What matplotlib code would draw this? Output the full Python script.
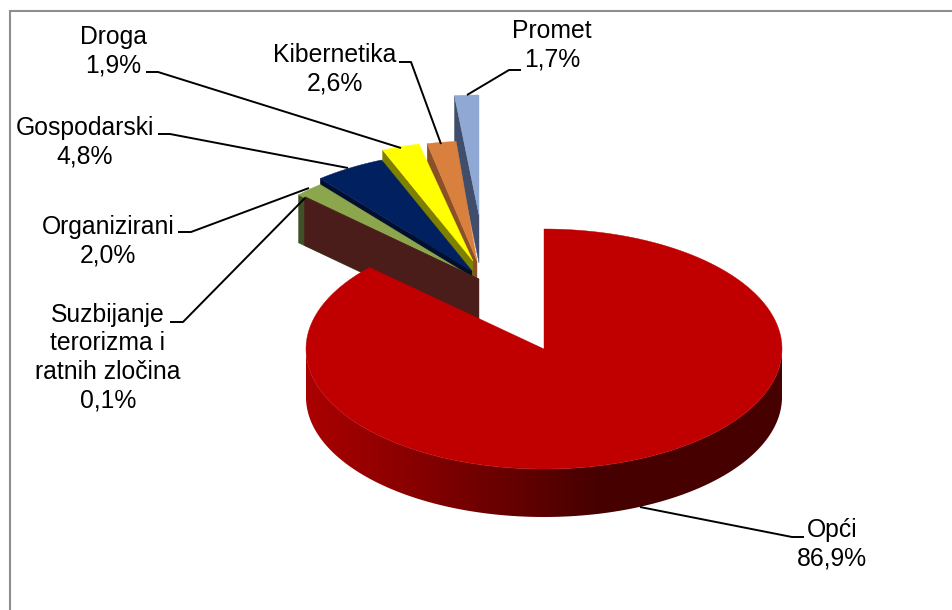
import numpy as np
import matplotlib
matplotlib.use("Agg")
import matplotlib.pyplot as plt
from matplotlib.patches import Polygon

# ---- data (clockwise from 12 o'clock)
categories = ["Opći", "Suzbijanje\nterorizma i\nratnih zločina", "Organizirani",
              "Gospodarski", "Droga", "Kibernetika", "Promet"]
shares = [86.9, 0.1, 2.0, 4.8, 1.9, 2.6, 1.7]

# ---- styling / layout, in figure pixels
top_colors = ["#C00000", "#4A1C1A", "#8CA64E", "#002060", "#FFFF00", "#D9803F", "#8FA8D4"]
wall_colors = ["#4A0000", "#4A1C1A", "#3F5126", "#000F30", "#7F7F00", "#8A5028", "#414E6B"]
apex = [(544, 349), (479, 279), (472, 277), (472, 271), (473, 261), (477, 261), (479, 215)]
# small corrections (degrees) for the 3D projection of the narrow slices: start, end
proj_shift = [(0, 0), (0, 0), (0, 0), (0, 0), (0, 2.4), (3.4, 1.1), (0.2, 0)]
RX, RY, DEPTH = 238, 120, 48
label_pos = [(832, 544), (108, 357.5), (108, 241.5), (85, 142.5), (113, 51.5), (335, 69.5), (552, 45)]
leaders = [[(804, 537), (792, 537), (640, 507)],
           [(170, 322), (183, 322), (305, 198)],
           [(178, 232), (191, 232), (309, 188)],
           [(158, 134), (170, 134), (348, 168)],
           [(146, 72), (158, 72), (401, 148)],
           [(399, 62), (411, 62), (441, 144)],
           [(521, 70), (509, 70), (467, 95)]]
FRAME = "#8E8E8E"
RIM_X = [306, 400, 500, 600, 782]
RIM_R = [170, 140, 105, 70, 70]

plt.rcParams["font.family"] = ["Liberation Sans", "DejaVu Sans"]
fig = plt.figure(figsize=(9.52, 6.10), dpi=100, facecolor="white")
ax = fig.add_axes([0, 0, 1, 1])
ax.set_xlim(0, 952)
ax.set_ylim(610, 0)
ax.axis("off")

ax.plot([9.5, 9.5, 952], [610, 11, 11], color=FRAME, lw=1.5, solid_joinstyle="miter", zorder=1)


def arc(cx, cy, t0, t1, n=120):
    t = np.radians(np.linspace(t0, t1, n))
    return np.column_stack([cx + RX * np.sin(t), cy - RY * np.cos(t)])


edges = np.cumsum([0] + shares) / sum(shares) * 360
z = 2
for i in range(len(shares) - 1, 0, -1):
    t0 = edges[i] + proj_shift[i][0]
    t1 = edges[i + 1] + proj_shift[i][1]
    cx, cy = apex[i]
    rim = arc(cx, cy, t0, t1)
    corner = rim[0]
    wall = [(cx, cy), corner, (corner[0], corner[1] + DEPTH), (cx, cy + DEPTH)]
    ax.add_patch(Polygon(wall, closed=True, fc=wall_colors[i], ec=wall_colors[i], lw=0.3, zorder=z))
    z += 1
    ax.add_patch(Polygon(np.vstack([[(cx, cy)], rim]), closed=True, fc=top_colors[i],
                         ec=top_colors[i], lw=0.3, zorder=z))
    z += 1

# main slice: shaded rim (gradient clipped to the rim outline), then top face
cx, cy = apex[0]
rim_pts = arc(cx, cy, 90, 270, 241)
outline = np.vstack([rim_pts, rim_pts[::-1] + [0, DEPTH]])
xs = np.arange(cx - RX - 2, cx + RX + 3)
grad = np.zeros((1, xs.size, 3))
grad[0, :, 0] = np.interp(xs, RIM_X, RIM_R) / 255
im = ax.imshow(grad, extent=(xs[0], xs[-1], cy + RY + DEPTH + 2, cy - 2), aspect="auto",
               interpolation="bilinear", zorder=z)
clip = Polygon(outline, closed=True, fc="none", ec="none", transform=ax.transData)
ax.add_patch(clip)
im.set_clip_path(clip)
ax.set_xlim(0, 952)
ax.set_ylim(610, 0)
z += 1
ax.add_patch(Polygon(np.vstack([[(cx, cy)], arc(cx, cy, edges[0], edges[1], 400)]), closed=True,
                     fc=top_colors[0], ec=top_colors[0], lw=0.3, zorder=z))
z += 1

# leader lines and labels
for pts in leaders:
    lx, ly = zip(*pts)
    ax.plot(lx, ly, color="black", lw=1.4, solid_capstyle="butt", zorder=z)
for name, val, (x, y) in zip(categories, shares, label_pos):
    txt = f"{name}\n{val:.1f}%".replace(".", ",")
    ax.text(x, y, txt, ha="center", va="center", fontsize=17.8, linespacing=1.24,
            color="black", zorder=z + 1)

fig.savefig("out.png", dpi=100)
